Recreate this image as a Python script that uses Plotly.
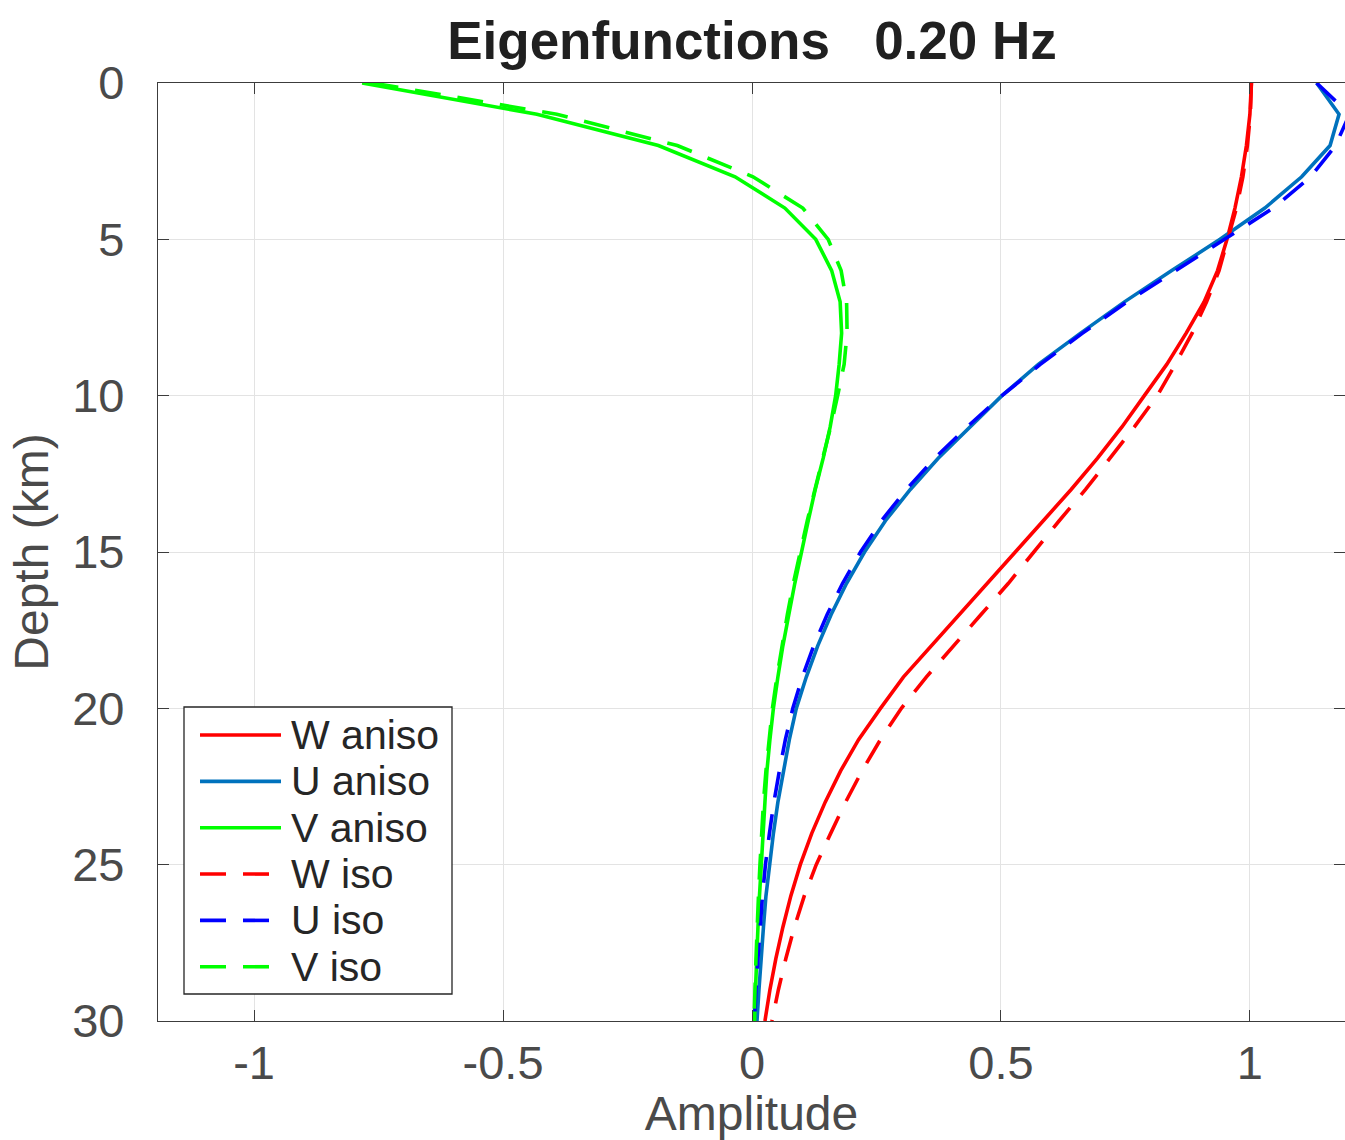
import plotly.graph_objects as go

depth = list(range(0, 31))

W_aniso = [1.003, 1.000, 0.993, 0.983, 0.970, 0.954, 0.935, 0.908, 0.872, 0.833,
           0.788, 0.743, 0.694, 0.641, 0.585, 0.529, 0.472, 0.416, 0.360, 0.304,
           0.258, 0.214, 0.178, 0.147, 0.120, 0.097, 0.078, 0.062, 0.048, 0.036, 0.026]
U_aniso = [1.134, 1.179, 1.161, 1.104, 1.030, 0.940, 0.843, 0.748, 0.660, 0.575,
           0.502, 0.437, 0.374, 0.318, 0.268, 0.226, 0.190, 0.159, 0.132, 0.109,
           0.089, 0.075, 0.063, 0.052, 0.043, 0.035, 0.028, 0.023, 0.018, 0.014, 0.010]
V_aniso = [-0.783, -0.432, -0.188, -0.034, 0.066, 0.128, 0.160, 0.177, 0.180, 0.175,
           0.168, 0.157, 0.143, 0.127, 0.113, 0.099, 0.086, 0.074, 0.062, 0.052,
           0.043, 0.036, 0.030, 0.026, 0.022, 0.019, 0.015, 0.012, 0.009, 0.007, 0.005]
W_iso = [1.003, 1.001, 0.995, 0.986, 0.973, 0.956, 0.938, 0.913, 0.884, 0.850,
         0.814, 0.768, 0.720, 0.670, 0.617, 0.567, 0.515, 0.460, 0.405, 0.350,
         0.300, 0.258, 0.221, 0.188, 0.158, 0.129, 0.105, 0.085, 0.068, 0.053, 0.040]
U_iso = [1.134, 1.200, 1.172, 1.122, 1.047, 0.948, 0.849, 0.753, 0.664, 0.579,
         0.502, 0.432, 0.367, 0.310, 0.260, 0.218, 0.182, 0.151, 0.124, 0.101,
         0.082, 0.067, 0.055, 0.044, 0.035, 0.027, 0.021, 0.016, 0.012, 0.008, 0.005]
V_iso = [-0.762, -0.392, -0.150, 0.002, 0.102, 0.153, 0.179, 0.190, 0.191, 0.185,
         0.172, 0.158, 0.142, 0.126, 0.111, 0.097, 0.083, 0.071, 0.060, 0.050,
         0.041, 0.034, 0.028, 0.023, 0.019, 0.016, 0.013, 0.010, 0.008, 0.006, 0.004]

x_tickvals = [-1, -0.5, 0, 0.5, 1]
x_ticktext = ["-1", "-0.5", "0", "0.5", "1"]
y_tickvals = [0, 5, 10, 15, 20, 25, 30]

DASH = "26px,17px"
series = [
    ("W aniso", W_aniso, "#FF0000", "solid"),
    ("U aniso", U_aniso, "#0072BD", "solid"),
    ("V aniso", V_aniso, "#00FF00", "solid"),
    ("W iso", W_iso, "#FF0000", DASH),
    ("U iso", U_iso, "#0000FF", DASH),
    ("V iso", V_iso, "#00FF00", DASH),
]

LW = 3.6

fig = go.Figure()
for name, vals, color, dash in series:
    fig.add_trace(go.Scatter(x=vals, y=depth, mode="lines", name=name, showlegend=False,
                             line=dict(color=color, width=LW, dash=dash)))

# ---- legend box (drawn as a framed list, MATLAB style) ----
W, H = 1345, 1140
ML, MR, MT, MB = 158, 0, 83, 119
PW, PH = W - ML - MR, H - MT - MB


def px(x):
    return (x - ML) / PW


def py(y):
    return (H - MB - y) / PH


shapes = [dict(type="rect", xref="paper", yref="paper", layer="above",
               x0=px(184), x1=px(452), y0=py(994), y1=py(707),
               fillcolor="white", line=dict(color="#262626", width=1.3))]
annotations = []
row0, pitch = 735.0, 46.35
for i, (name, vals, color, dash) in enumerate(series):
    yy = row0 + i * pitch
    shapes.append(dict(type="line", xref="paper", yref="paper", layer="above",
                       x0=px(200), x1=px(281), y0=py(yy), y1=py(yy),
                       line=dict(color=color, width=LW, dash=dash)))
    annotations.append(dict(text=name, xref="paper", yref="paper", x=px(289), y=py(yy),
                            xanchor="left", yanchor="middle", showarrow=False,
                            font=dict(size=41, color="#262626")))

FONT = "Liberation Sans, Arial, Helvetica, sans-serif"
AX = "#3c3c3c"
LBL = "#4a4a4a"

fig.update_layout(
    width=W, height=H,
    margin=dict(l=ML, r=MR, t=MT, b=MB),
    paper_bgcolor="white", plot_bgcolor="white",
    font=dict(family=FONT, color=AX),
    title=dict(text="<b>Eigenfunctions   0.20 Hz</b>", x=752 / W, xanchor="center",
               y=1 - 40 / H, yanchor="middle",
               font=dict(family=FONT, size=53, color="#202020")),
    xaxis=dict(range=[-1.193, 1.191], tickvals=x_tickvals, ticktext=x_ticktext,
               ticks="inside", ticklen=11, tickcolor=AX, tickwidth=1.3,
               showline=True, linecolor=AX, linewidth=1.3, mirror="allticks",
               showgrid=True, gridcolor="#e3e3e3", gridwidth=1, zeroline=False,
               tickfont=dict(size=47, color=LBL), ticklabelstandoff=0,
               title=dict(text="Amplitude", font=dict(size=48, color=LBL), standoff=12)),
    yaxis=dict(range=[30, 0], tickvals=y_tickvals,
               ticks="inside", ticklen=11, tickcolor=AX, tickwidth=1.3,
               showline=True, linecolor=AX, linewidth=1.3, mirror="allticks",
               showgrid=True, gridcolor="#e3e3e3", gridwidth=1, zeroline=False,
               tickfont=dict(size=47, color=LBL), ticklabelstandoff=23,
               title=dict(text="Depth (km)", font=dict(size=48, color=LBL), standoff=8)),
    shapes=shapes,
    annotations=annotations,
    showlegend=False,
)

fig.write_html("out.html")
